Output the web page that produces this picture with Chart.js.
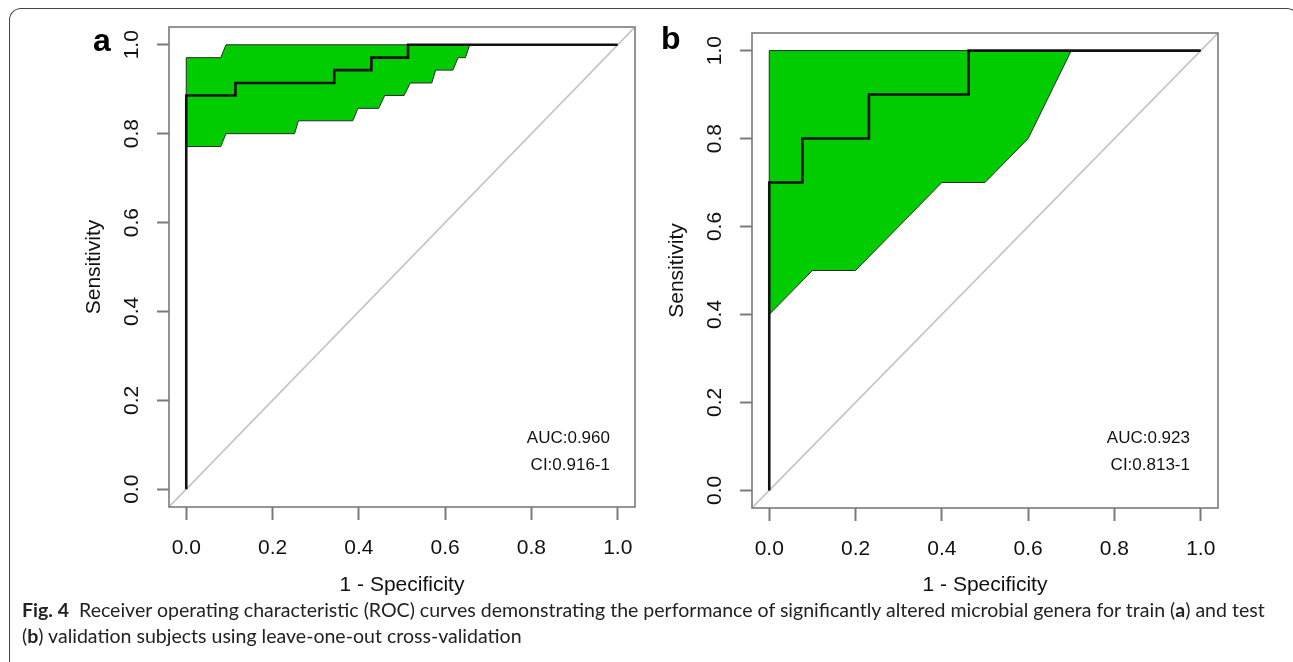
<!DOCTYPE html>
<html lang="en">
<head>
<meta charset="UTF-8">
<title>ROC curves</title>
<style>
    body { margin: 0; background: #fff; width: 1293px; height: 662px; overflow: hidden; position: relative; font-family: "Liberation Sans", Arial, sans-serif; }
    .frame { position: absolute; left: 9px; top: 8px; width: 1290px; height: 700px; border: 1.5px solid #444; border-bottom: none; border-radius: 12px 12px 0 0; box-sizing: border-box; }
    canvas { position: absolute; top: 0; }
    #chartA { left: 0; }
    #chartB { left: 583px; }
    .letter { position: absolute; font-weight: bold; font-size: 32px; line-height: 32px; color: #000; }
    .auc { position: absolute; font-size: 17px; line-height: 27px; text-align: right; color: #111; width: 120px; }
    .caption { position: absolute; left: 22px; top: 597px; font-family: "Lato", "Open Sans", sans-serif; font-size: 17px; line-height: 26px; color: #222; white-space: nowrap; }
    .caption b { font-weight: bold; }
</style>
</head>
<body>
<div class="frame"></div>
<canvas id="chartA" width="660" height="600"></canvas>
<canvas id="chartB" width="660" height="600"></canvas>
<div class="letter" style="left:93px; top:24px;">a</div>
<div class="letter" style="left:661px; top:22px;">b</div>
<div class="auc" style="left:490px; top:424px;">AUC:0.960<br>CI:0.916-1</div>
<div class="auc" style="left:1070px; top:424px;">AUC:0.923<br>CI:0.813-1</div>
<div class="caption" id="caption"><span id="line1"><b>Fig. 4</b>&nbsp; Receiver operating characteristic (ROC) curves demonstrating the performance of significantly altered microbial genera for train (<b>a</b>) and test</span><br>(<b>b</b>) validation subjects using leave-one-out cross-validation</div>

<script src="https://cdn.jsdelivr.net/npm/chart.js"></script>
<script>
    // axis ticks
    const tickValues = [0, 0.2, 0.4, 0.6, 0.8, 1.0];

    // train (a): ROC curve points (1 - specificity, sensitivity)
    const fprA = [0, 0, 0.114, 0.343, 0.429, 0.514, 1];
    const tprA = [0, 0.886, 0.914, 0.943, 0.971, 1, 1];
    // train (a): confidence band edges
    const ciUpperXA = [0, 0.080, 0.092, 0.657];
    const ciUpperYA = [0.971, 0.971, 1.0, 1.0];
    const ciLowerXA = [0, 0.080, 0.092, 0.251, 0.260, 0.386, 0.398, 0.446, 0.460, 0.505, 0.519, 0.569, 0.578, 0.618, 0.630, 0.647, 0.657];
    const ciLowerYA = [0.771, 0.771, 0.800, 0.800, 0.829, 0.829, 0.857, 0.857, 0.886, 0.886, 0.914, 0.914, 0.943, 0.943, 0.971, 0.971, 1.0];

    // test (b)
    const fprB = [0, 0, 0.077, 0.231, 0.462, 1];
    const tprB = [0, 0.7, 0.8, 0.9, 1, 1];
    const ciUpperXB = [0, 0.7];
    const ciUpperYB = [1.0, 1.0];
    const ciLowerXB = [0, 0.1, 0.2, 0.4, 0.5, 0.6, 0.7];
    const ciLowerYB = [0.4, 0.5, 0.5, 0.7, 0.7, 0.8, 1.0];

    // chance line
    const diagX = [-0.1, 1.1];
    const diagY = [-0.1, 1.1];

    Chart.defaults.font.family = '"Liberation Sans", Arial, sans-serif';
    Chart.defaults.color = '#111';

    function pts(xs, ys) {
        return xs.map((x, i) => ({ x: x, y: ys[i] }));
    }

    function bandPoints(ux, uy, lx, ly) {
        const upper = pts(ux, uy);
        const lower = pts(lx, ly).reverse();
        return upper.concat(lower, [upper[0]]);
    }

    const rBox = {
        id: 'rBox',
        afterDatasetsDraw(chart) {
            const ctx = chart.ctx;
            const a = chart.chartArea;
            ctx.save();
            ctx.strokeStyle = '#7a7a7a';
            ctx.lineWidth = 1.6;
            ctx.strokeRect(a.left, a.top, a.right - a.left, a.bottom - a.top);
            // rotated y tick labels like base R
            const ys = chart.scales.y;
            ctx.fillStyle = '#111';
            ctx.font = '21px "Liberation Sans", Arial, sans-serif';
            ctx.textAlign = 'center';
            ctx.textBaseline = 'middle';
            tickValues.forEach(v => {
                ctx.save();
                ctx.translate(a.left - 37, ys.getPixelForValue(v));
                ctx.rotate(-Math.PI / 2);
                ctx.fillText(v.toFixed(1), 0, 0);
                ctx.restore();
            });
            ctx.restore();
        }
    };

    function makeChart(id, padTop, xHeight, fpr, tpr, ux, uy, lx, ly) {
        return new Chart(document.getElementById(id), {
            type: 'scatter',
            data: {
                datasets: [
                    {
                        // ROC curve on top
                        data: pts(fpr, tpr),
                        order: 0,
                        showLine: true,
                        stepped: 'before',
                        borderColor: '#111',
                        borderWidth: 2.6,
                        pointRadius: 0
                    },
                    {
                        data: pts(diagX, diagY),
                        order: 1,
                        showLine: true,
                        borderColor: '#c4c4c4',
                        borderWidth: 1.6,
                        pointRadius: 0
                    },
                    {
                        // confidence band
                        data: bandPoints(ux, uy, lx, ly),
                        order: 2,
                        showLine: true,
                        fill: 'shape',
                        backgroundColor: '#00cc00',
                        borderColor: '#2a2a2a',
                        borderWidth: 1,
                        pointRadius: 0,
                        tension: 0
                    }
                ]
            },
            options: {
                responsive: false,
                animation: false,
                events: [],
                layout: { padding: { left: 0, top: padTop, right: 25, bottom: 0 } },
                plugins: { legend: { display: false }, tooltip: { enabled: false } },
                scales: {
                    x: {
                        type: 'linear',
                        min: -0.04,
                        max: 1.04,
                        afterBuildTicks: s => { s.ticks = tickValues.map(v => ({ value: v })); },
                        afterFit: s => { s.height = xHeight; },
                        border: { display: false },
                        grid: { drawOnChartArea: false, drawTicks: true, tickLength: 13, tickColor: '#7a7a7a', tickWidth: 2 },
                        ticks: { font: { size: 21 }, padding: 16, maxRotation: 0, callback: v => v.toFixed(1) },
                        title: { display: true, text: '1 - Specificity', font: { size: 21 }, padding: { top: 0, bottom: 2 } }
                    },
                    y: {
                        type: 'linear',
                        min: -0.04,
                        max: 1.04,
                        afterBuildTicks: s => { s.ticks = tickValues.map(v => ({ value: v })); },
                        afterFit: s => { s.width = 169; },
                        border: { display: false },
                        grid: { drawOnChartArea: false, drawTicks: true, tickLength: 12, tickColor: '#7a7a7a', tickWidth: 2 },
                        ticks: { font: { size: 21 }, color: 'rgba(0,0,0,0)', callback: v => v.toFixed(1) },
                        title: { display: true, text: 'Sensitivity', font: { size: 21 }, padding: { top: 82, bottom: 0 } }
                    }
                }
            },
            plugins: [rBox]
        });
    }

    makeChart('chartA', 27, 93, fprA, tprA, ciUpperXA, ciUpperYA, ciLowerXA, ciLowerYA);
    makeChart('chartB', 33, 92, fprB, tprB, ciUpperXB, ciUpperYB, ciLowerXB, ciLowerYB);

    // fit caption's first line to the figure width
    const line1 = document.getElementById('line1');
    const w = line1.getBoundingClientRect().width;
    document.getElementById('caption').style.fontSize = (17 * 1244 / w).toFixed(2) + 'px';
</script>
</body>
</html>
